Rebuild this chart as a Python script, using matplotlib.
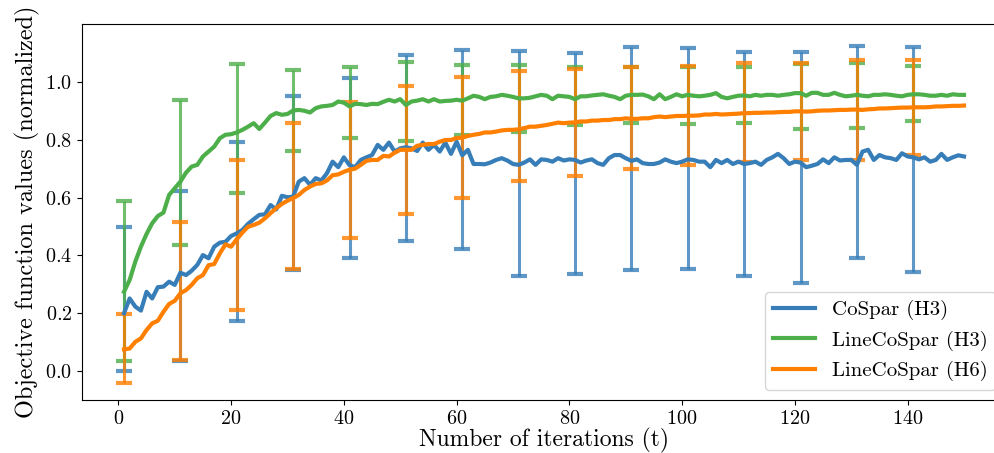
import numpy as np
import matplotlib
matplotlib.use('Agg')
import matplotlib.pyplot as plt

plt.rcParams['font.family'] = 'cmr10'
plt.rcParams['mathtext.fontset'] = 'cm'
plt.rcParams['axes.unicode_minus'] = False
plt.rcParams['axes.formatter.use_mathtext'] = True

iters = np.arange(1, 151)

cospar_h3 = [
    0.200, 0.251, 0.223, 0.209, 0.274, 0.251, 0.290, 0.292, 0.309, 0.298,
    0.340, 0.332, 0.347, 0.367, 0.401, 0.390, 0.430, 0.444, 0.447, 0.467,
    0.476, 0.488, 0.509, 0.525, 0.540, 0.542, 0.574, 0.559, 0.606, 0.601,
    0.603, 0.655, 0.667, 0.644, 0.667, 0.659, 0.684, 0.724, 0.705, 0.739,
    0.712, 0.705, 0.730, 0.739, 0.747, 0.782, 0.765, 0.790, 0.759, 0.770,
    0.774, 0.770, 0.761, 0.790, 0.765, 0.782, 0.759, 0.790, 0.751, 0.793,
    0.746, 0.765, 0.716, 0.716, 0.715, 0.721, 0.730, 0.736, 0.728, 0.716,
    0.713, 0.721, 0.732, 0.713, 0.732, 0.730, 0.724, 0.736, 0.728, 0.732,
    0.730, 0.721, 0.728, 0.732, 0.719, 0.713, 0.736, 0.747, 0.747, 0.736,
    0.727, 0.732, 0.719, 0.716, 0.716, 0.721, 0.732, 0.724, 0.719, 0.724,
    0.732, 0.730, 0.724, 0.724, 0.705, 0.730, 0.719, 0.730, 0.716, 0.724,
    0.716, 0.719, 0.724, 0.713, 0.730, 0.739, 0.751, 0.736, 0.716, 0.724,
    0.721, 0.705, 0.710, 0.716, 0.732, 0.719, 0.739, 0.728, 0.730, 0.730,
    0.713, 0.759, 0.765, 0.730, 0.747, 0.739, 0.736, 0.730, 0.753, 0.742,
    0.739, 0.732, 0.739, 0.724, 0.730, 0.751, 0.730, 0.739, 0.746, 0.742,
]

linecospar_h3 = [
    0.274, 0.315, 0.378, 0.430, 0.474, 0.511, 0.536, 0.548, 0.609, 0.632,
    0.655, 0.686, 0.707, 0.713, 0.742, 0.759, 0.776, 0.805, 0.817, 0.819,
    0.825, 0.834, 0.845, 0.857, 0.837, 0.859, 0.882, 0.892, 0.886, 0.889,
    0.901, 0.903, 0.900, 0.894, 0.909, 0.915, 0.917, 0.920, 0.932, 0.928,
    0.915, 0.924, 0.923, 0.920, 0.924, 0.923, 0.931, 0.938, 0.932, 0.940,
    0.920, 0.932, 0.935, 0.940, 0.932, 0.940, 0.932, 0.934, 0.935, 0.938,
    0.935, 0.943, 0.952, 0.948, 0.940, 0.948, 0.950, 0.955, 0.952, 0.948,
    0.943, 0.943, 0.945, 0.950, 0.955, 0.952, 0.940, 0.952, 0.950, 0.948,
    0.940, 0.950, 0.950, 0.953, 0.955, 0.957, 0.952, 0.948, 0.940, 0.952,
    0.955, 0.955, 0.956, 0.950, 0.940, 0.957, 0.940, 0.948, 0.957, 0.950,
    0.955, 0.952, 0.950, 0.952, 0.955, 0.961, 0.948, 0.943, 0.948, 0.952,
    0.953, 0.950, 0.955, 0.952, 0.955, 0.955, 0.952, 0.955, 0.957, 0.961,
    0.961, 0.952, 0.962, 0.962, 0.955, 0.955, 0.962, 0.955, 0.950, 0.952,
    0.955, 0.952, 0.950, 0.955, 0.955, 0.957, 0.955, 0.952, 0.950, 0.955,
    0.957, 0.957, 0.955, 0.952, 0.952, 0.955, 0.952, 0.957, 0.955, 0.955,
]

linecospar_h6 = [
    0.075, 0.078, 0.101, 0.113, 0.142, 0.165, 0.174, 0.205, 0.232, 0.243,
    0.269, 0.280, 0.298, 0.321, 0.332, 0.366, 0.370, 0.407, 0.438, 0.430,
    0.456, 0.479, 0.499, 0.505, 0.513, 0.528, 0.546, 0.563, 0.578, 0.589,
    0.598, 0.609, 0.626, 0.638, 0.647, 0.649, 0.659, 0.677, 0.680, 0.689,
    0.696, 0.700, 0.713, 0.727, 0.730, 0.730, 0.744, 0.742, 0.755, 0.765,
    0.765, 0.765, 0.779, 0.782, 0.785, 0.785, 0.793, 0.799, 0.799, 0.806,
    0.807, 0.813, 0.817, 0.820, 0.825, 0.825, 0.828, 0.832, 0.834, 0.834,
    0.836, 0.840, 0.845, 0.845, 0.848, 0.851, 0.855, 0.859, 0.857, 0.859,
    0.860, 0.863, 0.863, 0.866, 0.866, 0.868, 0.868, 0.871, 0.871, 0.874,
    0.872, 0.872, 0.874, 0.874, 0.878, 0.880, 0.878, 0.880, 0.882, 0.882,
    0.883, 0.883, 0.884, 0.887, 0.887, 0.889, 0.887, 0.888, 0.889, 0.890,
    0.892, 0.892, 0.893, 0.893, 0.894, 0.894, 0.895, 0.896, 0.896, 0.898,
    0.898, 0.897, 0.898, 0.900, 0.901, 0.901, 0.902, 0.903, 0.903, 0.904,
    0.904, 0.903, 0.905, 0.906, 0.908, 0.908, 0.909, 0.910, 0.911, 0.911,
    0.912, 0.912, 0.912, 0.913, 0.915, 0.915, 0.916, 0.917, 0.917, 0.918,
]

# error bars every 10 iterations (lower / upper ends)
err_x = np.arange(1, 151, 10)
cospar_h3_lo = [0.001, 0.034, 0.173, 0.348, 0.390, 0.451, 0.423, 0.329, 0.336, 0.349, 0.352, 0.330, 0.306, 0.392, 0.341]
cospar_h3_hi = [0.499, 0.624, 0.792, 0.952, 1.015, 1.093, 1.111, 1.107, 1.099, 1.122, 1.116, 1.102, 1.104, 1.125, 1.120]
linecospar_h3_lo = [0.036, 0.435, 0.614, 0.760, 0.805, 0.795, 0.817, 0.828, 0.850, 0.859, 0.853, 0.857, 0.837, 0.840, 0.863]
linecospar_h3_hi = [0.589, 0.938, 1.060, 1.042, 1.050, 1.070, 1.059, 1.059, 1.050, 1.050, 1.052, 1.053, 1.062, 1.064, 1.055]
linecospar_h6_lo = [-0.040, 0.038, 0.211, 0.353, 0.459, 0.543, 0.598, 0.657, 0.676, 0.697, 0.712, 0.724, 0.730, 0.730, 0.746]
linecospar_h6_hi = [0.196, 0.516, 0.729, 0.857, 0.932, 0.984, 1.018, 1.036, 1.045, 1.052, 1.055, 1.064, 1.066, 1.074, 1.075]

labels = ['CoSpar (H3)', 'LineCoSpar (H3)', 'LineCoSpar (H6)']
colors = ['#377eb8', '#4daf4a', '#ff7f00']

series = [cospar_h3, linecospar_h3, linecospar_h6]
lows = [cospar_h3_lo, linecospar_h3_lo, linecospar_h6_lo]
highs = [cospar_h3_hi, linecospar_h3_hi, linecospar_h6_hi]

fig = plt.figure(figsize=(9.94, 4.53), dpi=100)
ax = fig.add_axes([82/994, 53/453, (1006-82)/994, (400-24)/453])

for lo, hi, c in zip(lows, highs, colors):
    lo = np.array(lo); hi = np.array(hi)
    mid = (lo + hi) / 2
    half = (hi - lo) / 2
    ax.errorbar(err_x, mid, yerr=half, fmt='none', ecolor=c, elinewidth=2.2,
                capsize=5.5, capthick=3, alpha=0.8, zorder=1)

for y, c, lab in zip(series, colors, labels):
    ax.plot(iters, y, color=c, lw=3, label=lab, zorder=2)

ax.set_xlim(-6.45, 157.45)
ax.set_ylim(-0.1, 1.2)
ax.set_xticks(np.arange(0, 141, 20))
ax.set_yticks(np.arange(0, 1.01, 0.2))
ax.tick_params(labelsize=14.5)
ax.set_xlabel('Number of iterations (t)', fontsize=17, labelpad=0)
ax.set_ylabel('Objective function values (normalized)', fontsize=17.5)
ax.legend(loc='lower right', fontsize=15)

fig.savefig('out.png', dpi=100)
